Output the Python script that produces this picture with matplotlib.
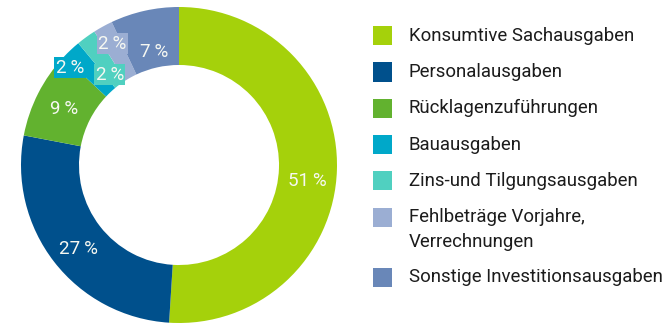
import numpy as np
import matplotlib.pyplot as plt
from matplotlib.patches import Rectangle

categories = [
    "Konsumtive Sachausgaben",
    "Personalausgaben",
    "Rücklagenzuführungen",
    "Bauausgaben",
    "Zins-und Tilgungsausgaben",
    "Fehlbeträge Vorjahre,\nVerrechnungen",
    "Sonstige Investitionsausgaben",
]
shares = [51, 27, 9, 2, 2, 2, 7]
colors = ["#a5d10b", "#00508c", "#62b22f", "#00a8c9", "#50d0c0", "#9baed3", "#6987b8"]
# placement of each percentage: fraction of outer radius and turn (deg) off the wedge middle
label_radius = [0.82, 0.83, 0.81, 0.925, 0.72, 0.875, 0.73]
label_turn = [-5.5, 2, 1, 5, 1.5, 0, 0]

W, H = 668, 324
fig = plt.figure(figsize=(W / 100, H / 100), dpi=100)
fig.patch.set_facecolor("white")

cx, cy, r = 179, 159, 158
ax = fig.add_axes([(cx - r) / W, (cy - r) / H, 2 * r / W, 2 * r / H])

wedges, _ = ax.pie(
    shares,
    colors=colors,
    startangle=90,
    counterclock=False,
    radius=1,
    wedgeprops=dict(width=0.367, linewidth=0),
)
ax.set_xlim(-1, 1)
ax.set_ylim(-1, 1)
ax.set_aspect("equal")
ax.axis("off")
for w in wedges:
    w.set_clip_on(False)

for w, val, rad, turn, col in zip(wedges, shares, label_radius, label_turn, colors):
    ang = np.deg2rad((w.theta1 + w.theta2) / 2 + turn)
    ax.text(
        rad * np.cos(ang), rad * np.sin(ang), f"{val}\u2009%",
        ha="center", va="center", color="#f6f8f2", fontsize=13.5,
        family=["Roboto", "DejaVu Sans"],
        bbox=dict(boxstyle="square,pad=0.08", fc=col, ec="none"),
    )

# legend drawn by hand so the swatch lines up with the first line of text
y = H - 35.7
for label, col in zip(categories, colors):
    fig.patches.append(Rectangle((373 / W, (y - 9.5) / H), 19 / W, 19 / H,
                                 transform=fig.transFigure, fc=col, ec="none"))
    lines = label.split("\n")
    for i, line in enumerate(lines):
        fig.text(409 / W, (y - i * 24.5) / H, line, ha="left", va="center",
                 fontsize=13.4, color="#1c1c1c", family=["Roboto", "DejaVu Sans"])
    y -= 36.3 + 24 * (len(lines) - 1)

fig.savefig("out.png", dpi=100)
